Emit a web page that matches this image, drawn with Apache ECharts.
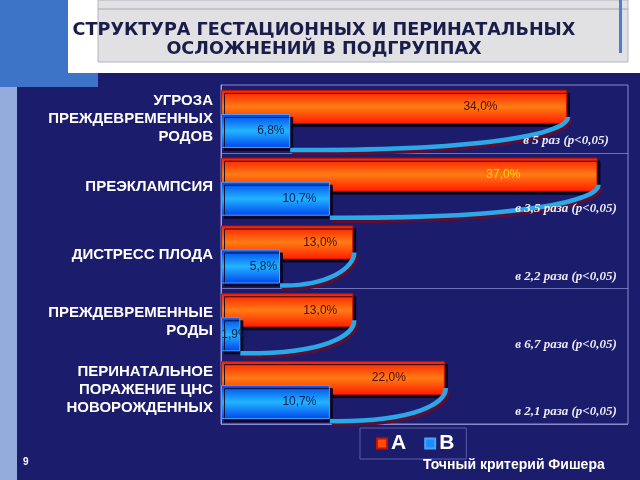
<!DOCTYPE html>
<html>
<head>
<meta charset="utf-8">
<script src="https://cdn.jsdelivr.net/npm/echarts@6/dist/echarts.min.js"></script>
<style>
  html, body { margin: 0; padding: 0; background: #1c1c6c; }
  #chart { width: 640px; height: 480px; }
</style>
</head>
<body>
<div id="chart"></div>
<script>
const categories = [
  'УГРОЗА\nПРЕЖДЕВРЕМЕННЫХ\nРОДОВ',
  'ПРЕЭКЛАМПСИЯ',
  'ДИСТРЕСС ПЛОДА',
  'ПРЕЖДЕВРЕМЕННЫЕ\nРОДЫ',
  'ПЕРИНАТАЛЬНОЕ\nПОРАЖЕНИЕ ЦНС\nНОВОРОЖДЕННЫХ'
];
const valuesA = [34.0, 37.0, 13.0, 13.0, 22.0];
const valuesB = [6.8, 10.7, 5.8, 1.9, 10.7];
const ratioNotes = [
  'в 5 раз (p<0,05)',
  'в 3,5 раза (p<0,05)',
  'в 2,2 раза (p<0,05)',
  'в 6,7 раза (p<0,05)',
  'в 2,1 раза (p<0,05)'
];
const seriesNames = ['A', 'B'];

const BAR_W = 34;
const OVERLAP = 10;
const fmt = (v) => v.toFixed(1).replace('.', ',') + '%';

const chart = echarts.init(document.getElementById('chart'));

const redFill = new echarts.graphic.LinearGradient(0, 0, 0, 1, [
  { offset: 0, color: '#ff1a00' },
  { offset: 0.5, color: '#ff7c14' },
  { offset: 1, color: '#ff1a00' }
]);
const blueFill = new echarts.graphic.LinearGradient(0, 0, 0, 1, [
  { offset: 0, color: '#0044ee' },
  { offset: 0.5, color: '#22b4ff' },
  { offset: 1, color: '#0044ee' }
]);

// кривые-стрелки от конца A к концу B + подписи кратности
const renderArrow = (params, api) => {
  const idx = api.value(2);
  const pa = api.coord([api.value(0), idx]);
  const pb = api.coord([api.value(1), idx]);
  const right = api.coord([40, idx])[0];
  const group = 2 * BAR_W - OVERLAP;
  const rb = pa[1] - group / 2 + BAR_W;
  const bb = pa[1] + group / 2;
  const xA = pa[0], xB = pb[0];
  const d = xA - xB;
  return {
    type: 'group',
    children: [
      {
        type: 'bezierCurve',
        shape: {
          x1: xA + 1, y1: rb - 7,
          cpx1: xA + 1, cpy1: rb + 8,
          cpx2: xA - Math.max(d * 0.25, 25), cpy2: bb + 3,
          x2: xB, y2: bb + 2
        },
        style: {
          stroke: '#2aa8e8', lineWidth: 4.5, fill: null,
          shadowColor: '#5a0f35', shadowBlur: 0, shadowOffsetX: 2, shadowOffsetY: 3
        }
      },
      {
        type: 'text',
        x: right - 62,
        y: pa[1] + 22,
        style: {
          text: ratioNotes[params.dataIndex],
          fill: '#ecebf5',
          font: 'italic bold 13px "Liberation Serif"',
          textAlign: 'center', align: 'center',
          textVerticalAlign: 'middle', verticalAlign: 'middle'
        }
      }
    ]
  };
};

const option = {
  backgroundColor: '#1c1c6c',
  animation: false,
  title: [
    {
      text: 'СТРУКТУРА ГЕСТАЦИОННЫХ И ПЕРИНАТАЛЬНЫХ\nОСЛОЖНЕНИЙ В ПОДГРУППАХ',
      left: 324, top: 21, padding: 0, textAlign: 'center',
      textStyle: { fontFamily: 'DejaVu Sans', fontSize: 17.6, fontWeight: 'bold', color: '#1c1c4a', lineHeight: 19 }
    },
    {
      text: 'Точный критерий Фишера',
      left: 423, top: 458, padding: 0,
      textStyle: { fontFamily: 'Liberation Sans', fontSize: 14, fontWeight: 'bold', color: '#ffffff' }
    },
    {
      text: '9',
      left: 23, top: 457, padding: 0,
      textStyle: { fontFamily: 'Liberation Sans', fontSize: 10, fontWeight: 'bold', color: '#ffffff' }
    }
  ],
  graphic: [
    { type: 'rect', z: -10, shape: { x: 68, y: 0, width: 572, height: 73 }, style: { fill: '#ffffff' } },
    { type: 'rect', z: -10, shape: { x: 0, y: 0, width: 68, height: 87 }, style: { fill: '#3e74c8' } },
    { type: 'rect', z: -10, shape: { x: 0, y: 73, width: 98, height: 14 }, style: { fill: '#3e74c8' } },
    { type: 'rect', z: -10, shape: { x: 0, y: 87, width: 17, height: 393 }, style: { fill: '#93acdc' } },
    { type: 'rect', z: -9, shape: { x: 98, y: 0, width: 530, height: 62 }, style: { fill: '#e1e1e3', stroke: '#b4b4c4', lineWidth: 1 } },
    { type: 'line', z: -8, shape: { x1: 98, y1: 9, x2: 628, y2: 9 }, style: { stroke: '#a8a8bc', lineWidth: 1 } },
    { type: 'rect', z: -8, shape: { x: 619, y: 0, width: 3, height: 53 }, style: { fill: '#4a7fd0' } }
  ],
  legend: {
    data: [
      { name: 'A', itemStyle: { color: '#ff4a10' } },
      { name: 'B', itemStyle: { color: '#1c8cff' } }
    ],
    left: 360, top: 428,
    padding: [5, 12, 5, 16],
    itemGap: 18,
    itemWidth: 10, itemHeight: 10,
    icon: 'rect',
    borderColor: '#5c5ca6', borderWidth: 1,
    textStyle: { color: '#ffffff', fontFamily: 'Liberation Sans', fontSize: 21, fontWeight: 'bold', padding: [0, 0, 0, -1] }
  },
  grid: {
    left: 221, right: 12, top: 85, bottom: 56,
    show: true, borderColor: '#8c8cd0', borderWidth: 1,
    backgroundColor: 'transparent'
  },
  xAxis: {
    type: 'value', min: 0, max: 40,
    show: false, splitLine: { show: false }
  },
  yAxis: {
    type: 'category',
    inverse: true,
    data: categories,
    axisLine: { lineStyle: { color: '#9c9cd8' } },
    axisTick: { alignWithLabel: true, length: 6, lineStyle: { color: '#9c9cd8' } },
    splitLine: {
      show: true,
      interval: (index) => index === 1 || index === 3,
      lineStyle: { color: 'rgba(170,170,230,0.6)', width: 1 }
    },
    axisLabel: {
      color: '#ffffff',
      fontFamily: 'Liberation Sans',
      fontSize: 15,
      fontWeight: 'bold',
      lineHeight: 18,
      margin: 8,
      textShadowColor: 'rgba(0,0,0,0.5)', textShadowOffsetX: 1, textShadowOffsetY: 1
    }
  },
  series: [
    {
      name: seriesNames[0],
      type: 'bar',
      barWidth: BAR_W,
      barGap: -(OVERLAP / BAR_W) * 100 + '%',
      data: valuesA.map((v, i) => i === 1 ? { value: v, label: { color: '#ffd21a' } } : v),
      itemStyle: {
        color: redFill, borderColor: '#c41400', borderWidth: 1,
        shadowColor: 'rgba(5,5,30,0.9)', shadowOffsetX: 3, shadowOffsetY: 3
      },
      label: {
        show: true, position: ['75%', '50%'], align: 'center', verticalAlign: 'middle',
        overflow: 'none',
        formatter: (p) => fmt(p.value),
        color: '#4a0c08', fontFamily: 'Liberation Sans', fontSize: 12
      }
    },
    {
      name: seriesNames[1],
      type: 'bar',
      barWidth: BAR_W,
      data: valuesB,
      itemStyle: {
        color: blueFill, borderColor: '#4aa4ff', borderWidth: 1,
        shadowColor: 'rgba(5,5,30,0.9)', shadowOffsetX: 3, shadowOffsetY: 3
      },
      label: {
        show: true, position: ['72%', '50%'], align: 'center', verticalAlign: 'middle',
        overflow: 'none', width: 60,
        formatter: (p) => fmt(p.value),
        color: '#0c1f52', fontFamily: 'Liberation Sans', fontSize: 12
      }
    },
    {
      type: 'custom',
      name: 'arrows',
      z: 3,
      renderItem: renderArrow,
      encode: { x: [0, 1], y: 2 },
      data: valuesA.map((v, i) => [v, valuesB[i], i]),
      silent: true
    }
  ]
};

chart.setOption(option);
</script>
</body>
</html>
